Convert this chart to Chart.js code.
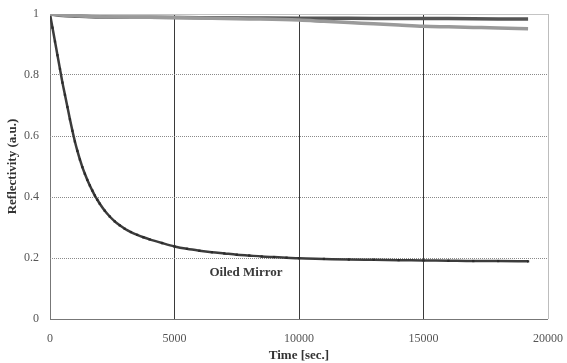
<!DOCTYPE html>
<html>
<head>
<meta charset="utf-8">
<script src="https://cdn.jsdelivr.net/npm/chart.js@4"></script>
<style>
  html, body { margin: 0; padding: 0; background: #fff; }
  #wrap { width: 567px; height: 363px; position: relative; }
</style>
</head>
<body>
<div id="wrap"><canvas id="chart"></canvas></div>
<script>
// Reflectivity vs. time for three mirrors
const oiledTimes = [0, 100, 200, 300, 400, 500, 600, 700, 800, 900, 1000, 1100, 1200, 1300, 1400,
  1500, 1600, 1700, 1800, 1900, 2000, 2200, 2400, 2600, 2800, 3000, 3250, 3500, 3750, 4000, 4500,
  5000, 5500, 6000, 6500, 7000, 7500, 8000, 8500, 9000, 9500, 10000, 11000, 12000, 13000, 14000,
  15000, 16000, 17000, 18000, 19200];
const oiledValues = [1.000, 0.955, 0.910, 0.865, 0.820, 0.775, 0.735, 0.695, 0.655, 0.617, 0.582,
  0.551, 0.523, 0.498, 0.476, 0.456, 0.438, 0.421, 0.405, 0.391, 0.378, 0.355, 0.336, 0.320, 0.307,
  0.296, 0.285, 0.276, 0.268, 0.261, 0.249, 0.238, 0.230, 0.224, 0.219, 0.215, 0.211, 0.208, 0.205,
  0.203, 0.201, 0.199, 0.197, 0.195, 0.194, 0.193, 0.192, 0.191, 0.190, 0.190, 0.189];

const cleanTimes = [0, 500, 1000, 2000, 4000, 6000, 8000, 10000, 12000, 14000, 16000, 18000, 19200];
const cleanValues = [1.000, 0.995, 0.993, 0.990, 0.989, 0.988, 0.987, 0.986, 0.986, 0.985, 0.985, 0.984, 0.984];

const agedTimes = [0, 1000, 2000, 4000, 6000, 8000, 10000, 11000, 12000, 13000, 14000, 15000, 16000,
  17000, 18000, 19200];
const agedValues = [1.000, 0.994, 0.991, 0.989, 0.987, 0.984, 0.980, 0.976, 0.972, 0.968, 0.964,
  0.960, 0.958, 0.956, 0.954, 0.952];

const xTicks = [0, 5000, 10000, 15000, 20000];
const yTicks = [0, 0.2, 0.4, 0.6, 0.8, 1];
const seriesLabel = { text: 'Oiled Mirror', x: 7870, y: 0.151 };

const SERIF = "'Liberation Serif', 'DejaVu Serif', serif";

function toPoints(times, values) {
  return times.map((t, i) => ({ x: t, y: values[i] }));
}

// Writes the series name under the oiled curve
const seriesLabelPlugin = {
  id: 'seriesLabel',
  afterDatasetsDraw(chart) {
    const ctx = chart.ctx;
    const px = chart.scales.x.getPixelForValue(seriesLabel.x);
    const py = chart.scales.y.getPixelForValue(seriesLabel.y);
    ctx.save();
    ctx.font = 'bold 13px ' + SERIF;
    ctx.fillStyle = '#3a3a3a';
    ctx.textAlign = 'center';
    ctx.textBaseline = 'middle';
    ctx.fillText(seriesLabel.text, px, py);
    ctx.restore();
  },
};

new Chart(document.getElementById('chart'), {
  type: 'line',
  data: {
    datasets: [
      {
        label: 'Aged Mirror',
        data: toPoints(agedTimes, agedValues),
        borderColor: '#9a9a9a',
        borderWidth: 3.5,
        pointRadius: 0,
        cubicInterpolationMode: 'monotone',
      },
      {
        label: 'Clean Mirror',
        data: toPoints(cleanTimes, cleanValues),
        borderColor: '#555',
        borderWidth: 3.5,
        pointRadius: 0,
        cubicInterpolationMode: 'monotone',
      },
      {
        label: 'Oiled Mirror',
        data: toPoints(oiledTimes, oiledValues),
        borderColor: '#3c3c3c',
        borderWidth: 2.5,
        pointRadius: 1.6,
        pointStyle: 'rect',
        pointBackgroundColor: '#2a2a2a',
        pointBorderWidth: 0,
        cubicInterpolationMode: 'monotone',
      },
    ],
  },
  options: {
    responsive: true,
    maintainAspectRatio: false,
    animation: false,
    layout: { padding: { top: 14, right: 19, left: 0, bottom: 0 } },
    plugins: {
      legend: { display: false },
      tooltip: { enabled: false },
    },
    scales: {
      x: {
        type: 'linear',
        min: 0,
        max: 20000,
        afterBuildTicks: (scale) => { scale.ticks = xTicks.map(v => ({ value: v })); },
        afterFit: (scale) => {
          scale.height = 44;
          scale.paddingLeft = 0;
          scale.paddingRight = 0;
        },
        grid: {
          drawTicks: false,
          lineWidth: 1,
          color: (c) => {
            const v = c.tick && c.tick.value;
            if (v === 0) return '#777';
            if (v === 20000) return '#bdbdbd';
            return '#3a3a3a';
          },
        },
        border: { display: false },
        ticks: {
          padding: 13,
          color: '#555',
          font: { family: SERIF, size: 12 },
          callback: (v) => String(v),
        },
        title: {
          display: true,
          text: 'Time [sec.]',
          color: '#333',
          padding: { top: 0, bottom: 0 },
          font: { family: SERIF, size: 13, weight: 'bold' },
        },
      },
      y: {
        type: 'linear',
        min: 0,
        max: 1,
        afterBuildTicks: (scale) => { scale.ticks = yTicks.map(v => ({ value: v })); },
        afterFit: (scale) => {
          scale.width = 50;
          scale.paddingTop = 0;
          scale.paddingBottom = 0;
        },
        grid: {
          drawTicks: false,
          lineWidth: 1,
          color: (c) => {
            const v = c.tick && c.tick.value;
            if (v === 0) return '#777';
            if (v === 1) return '#c4c4c4';
            return '#8a8a8a';
          },
        },
        border: {
          display: false,
          dash: (c) => {
            const v = c.tick && c.tick.value;
            return (v === 0 || v === 1) ? [] : [1, 1];
          },
        },
        ticks: {
          padding: 11,
          color: '#555',
          font: { family: SERIF, size: 12 },
          callback: (v) => String(v),
        },
        title: {
          display: true,
          text: 'Reflectivity (a.u.)',
          color: '#333',
          padding: { top: 5, bottom: 0 },
          font: { family: SERIF, size: 13, weight: 'bold' },
        },
      },
    },
  },
  plugins: [seriesLabelPlugin],
});
</script>
</body>
</html>
